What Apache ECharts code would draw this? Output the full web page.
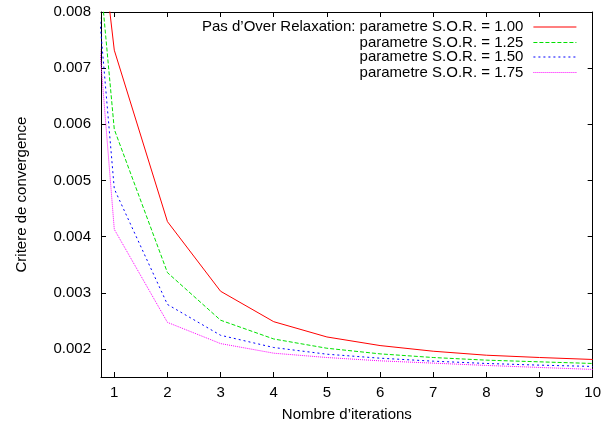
<!DOCTYPE html>
<html>
<head>
<meta charset="utf-8">
<script src="https://cdn.jsdelivr.net/npm/echarts@6/dist/echarts.min.js"></script>
<style>html,body{margin:0;padding:0;background:#fff}#c{width:604px;height:427px}</style>
</head>
<body>
<div id="c"></div>
<script>
const iterations = [0, 1, 2, 3, 4, 5, 6, 7, 8, 9, 10];
const sor100 = [0.0155, 0.00732, 0.004267, 0.003027, 0.002485, 0.002213, 0.002060, 0.001959, 0.001888, 0.001847, 0.001812];
const sor125 = [0.0162, 0.00591, 0.003359, 0.002511, 0.002177, 0.002012, 0.001912, 0.001847, 0.001800, 0.001770, 0.001741];
const sor150 = [0.0159, 0.00485, 0.002792, 0.002243, 0.002025, 0.001906, 0.001835, 0.001782, 0.001741, 0.001711, 0.001688];
const sor175 = [0.0159, 0.00413, 0.002473, 0.002095, 0.001924, 0.001847, 0.001788, 0.001747, 0.001706, 0.001670, 0.001635];
const seriesNames = [
  "Pas d\u2019Over Relaxation: parametre S.O.R. = 1.00",
  "parametre S.O.R. = 1.25",
  "parametre S.O.R. = 1.50",
  "parametre S.O.R. = 1.75"
];
const xTicks = [1, 2, 3, 4, 5, 6, 7, 8, 9, 10];
const yTicks = [0.002, 0.003, 0.004, 0.005, 0.006, 0.007, 0.008];

const FONT = '"Liberation Sans", Arial, Helvetica, sans-serif';
const colors = ['#ff0000', '#00e000', '#0000ff', '#ff00ff'];
const dashes = ['solid', [4, 2], [2, 3], [1, 1]];
const values = [sor100, sor125, sor150, sor175];
const legendTops = [19.5, 35, 49.5, 65];

const chart = echarts.init(document.getElementById('c'), null, {renderer: 'canvas'});
const axisLine = {show: true, lineStyle: {color: '#000', width: 1}};
chart.setOption({
  animation: false,
  backgroundColor: '#fff',
  textStyle: {fontFamily: FONT},
  grid: {left: 101, top: 12, right: 9, bottom: 48},
  legend: seriesNames.map((n, i) => ({
    data: [n],
    right: 27,
    top: legendTops[i],
    padding: 0,
    align: 'right',
    orient: 'vertical',
    itemWidth: 43,
    itemHeight: 14,
    selectedMode: false,
    itemStyle: {opacity: 0},
    lineStyle: {color: colors[i], width: 1.2, type: dashes[i], opacity: 1},
    textStyle: {fontFamily: FONT, fontSize: 15, color: '#000', padding: [0, 5, 0, 0]}
  })),
  xAxis: [{
    type: 'value', min: 0.75, max: 10, position: 'bottom',
    name: 'Nombre d\u2019iterations', nameLocation: 'middle', nameGap: 30,
    nameTextStyle: {fontFamily: FONT, fontSize: 15, color: '#000'},
    axisLine: axisLine,
    axisTick: {show: true, inside: true, length: 5, customValues: xTicks, lineStyle: {color: '#000'}},
    axisLabel: {show: true, margin: 8, customValues: xTicks, fontFamily: FONT, fontSize: 15, color: '#000'},
    splitLine: {show: false}
  }, {
    type: 'value', min: 0.75, max: 10, position: 'top',
    axisLine: axisLine,
    axisTick: {show: true, inside: true, length: 5, customValues: xTicks.slice(0, 9), lineStyle: {color: '#000'}},
    axisLabel: {show: false},
    splitLine: {show: false}
  }],
  yAxis: [{
    type: 'value', min: 0.0015, max: 0.008, position: 'left',
    name: 'Critere de convergence', nameLocation: 'middle', nameGap: 72,
    nameTextStyle: {fontFamily: FONT, fontSize: 15, color: '#000'},
    axisLine: axisLine,
    axisTick: {show: true, inside: true, length: 5, customValues: yTicks, lineStyle: {color: '#000'}},
    axisLabel: {show: true, margin: 10, customValues: yTicks, fontFamily: FONT, fontSize: 15, color: '#000',
      formatter: v => v.toFixed(3)},
    splitLine: {show: false}
  }, {
    type: 'value', min: 0.0015, max: 0.008, position: 'right',
    axisLine: axisLine,
    axisTick: {show: true, inside: true, length: 5, customValues: yTicks.slice(0, 6), lineStyle: {color: '#000'}},
    axisLabel: {show: false},
    splitLine: {show: false}
  }],
  series: seriesNames.map((n, i) => ({
    name: n,
    type: 'line',
    xAxisIndex: 0,
    yAxisIndex: 0,
    symbol: 'none',
    clip: true,
    color: colors[i],
    lineStyle: {color: colors[i], width: 1, type: dashes[i]},
    data: iterations.map((x, k) => [x, values[i][k]])
  }))
});
</script>
</body>
</html>
